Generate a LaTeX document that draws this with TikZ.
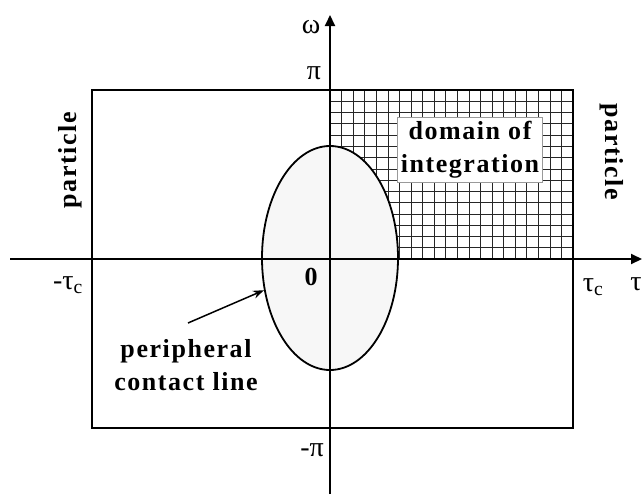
\documentclass[tikz,border=0pt]{standalone}
\usepackage{fontspec}
\setmainfont{Liberation Serif}
\newfontfamily\lblfont[LetterSpace=6]{Liberation Serif Bold}
\usetikzlibrary{shapes.geometric,arrows.meta}
\begin{document}
\begin{tikzpicture}[x=1pt,y=-1pt,
  axisline/.style={line width=2pt,-{Triangle[length=11pt,width=10pt]}},
  gridline/.style={line width=0.7pt,black!85},
  frameline/.style={line width=1.8pt},
  bold/.style={font=\lblfont\fontsize{26}{33}\selectfont,inner sep=0pt,align=center},
  greek/.style={font=\fontsize{28}{32}\selectfont,inner sep=0pt},
  ptr/.style={line width=1.5pt,-{Stealth[length=11pt,width=8pt]}}]
\useasboundingbox (0,0) rectangle (642,498);
% grid (domain of integration)
\foreach \i in {1,...,20} \draw[gridline] ({330+\i*243/21},90) -- ({330+\i*243/21},259);
\foreach \j in {1,...,14} \draw[gridline] (330,{90+\j*169/15}) -- (573,{90+\j*169/15});
% ellipse
\node[ellipse,draw,line width=1.8pt,fill=black!3,minimum width=136pt,minimum height=224pt,inner sep=0pt] (ell) at (330,258) {};
% text box
\node[bold,fill=white,draw=black!40,line width=0.6pt,minimum width=145pt,minimum height=65pt] (dom) at (470,150) {domain of\\integration};
% frame
\draw[frameline] (92,90) rectangle (573,428);
% axes
\coordinate (xs) at (10,259);
\coordinate (xe) at (642,259);
\coordinate (ys) at (330,494);
\coordinate (ye) at (330,15);
\draw[axisline] (xs) -- (xe);
\draw[axisline] (ys) -- (ye);
% labels
\node[greek] (om) at (311,27) {ω};
\node[greek] (pi) at (314,73) {π};
\node[greek] (mpi) at (312,450) {-π};
\node[greek] (mtc) at (68,285) {-τ\textsubscript{c}};
\node[greek] (tc) at (593,287) {τ\textsubscript{c}};
\node[greek] (tau) at (636,284) {τ};
\node[bold] (zero) at (311,277) {0};
\node[bold,rotate=90] (pl) at (70,160) {particle};
\node[bold,rotate=-90] (pr) at (612,152) {particle};
\node[bold] (per) at (186,365) {peripheral\\contact line};
\coordinate (a0) at (188,323);
\draw[ptr] (a0) -- (ell.206);
\end{tikzpicture}
\end{document}
